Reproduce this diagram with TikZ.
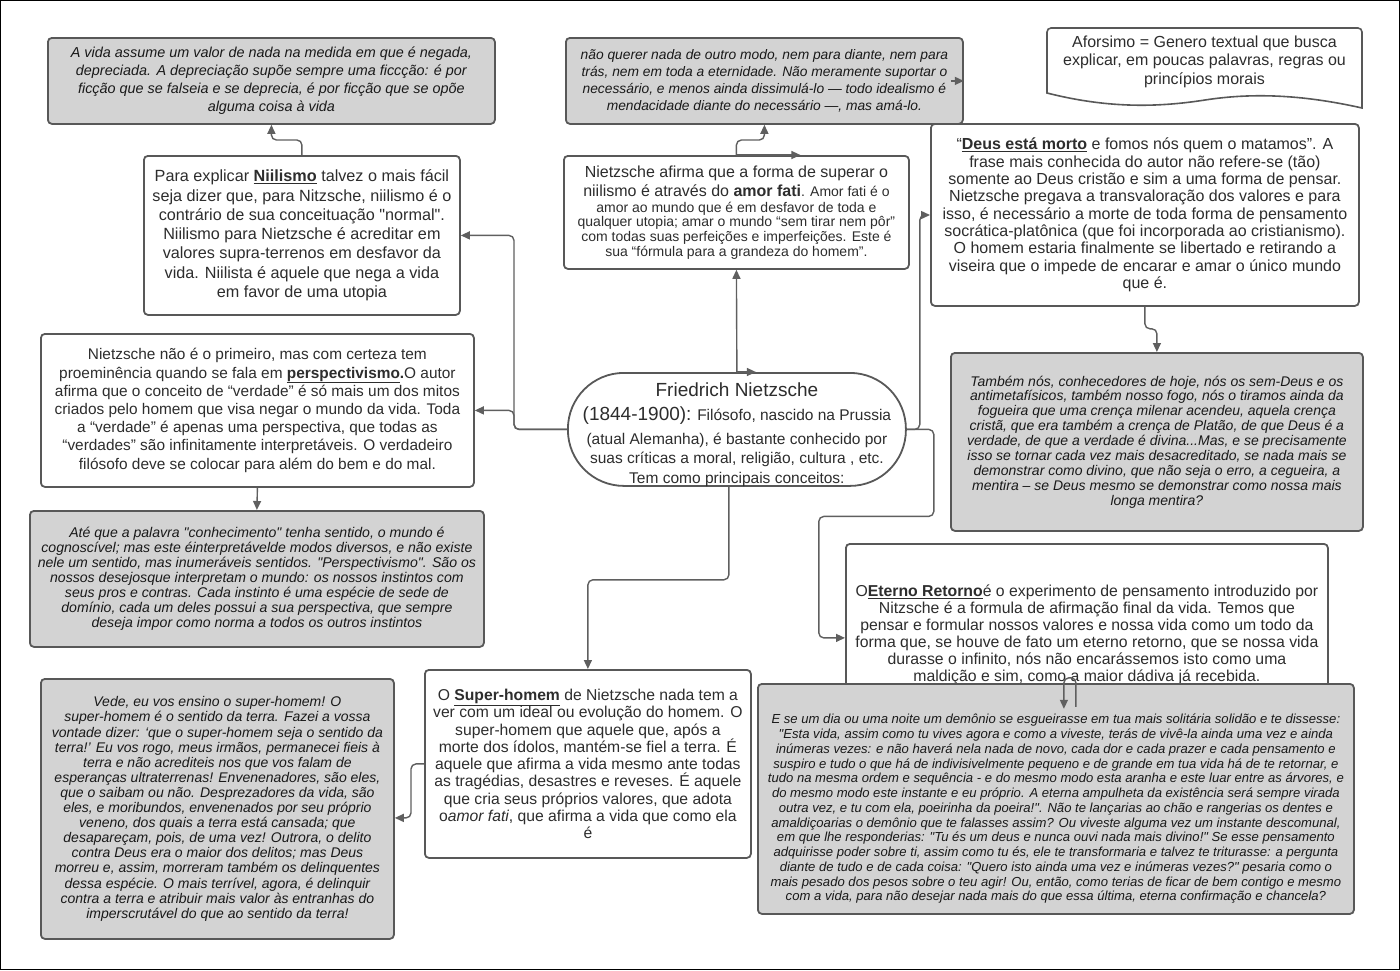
\documentclass[tikz,border=0pt]{standalone}
\usepackage{fontspec}
\setmainfont{Liberation Sans}[Ligatures=TeXOff]
\usetikzlibrary{arrows.meta,calc}
\definecolor{bc}{RGB}{88,88,88}
\definecolor{lc}{RGB}{95,95,95}
\definecolor{qf}{RGB}{211,211,211}
\definecolor{tc}{RGB}{45,45,45}
\definecolor{qt}{RGB}{25,25,25}
\tikzset{
  box/.style={draw=bc, line width=1.8pt, rounded corners=4pt, fill=white, align=center,
    text=tc, inner sep=0pt, anchor=north west},
  qbox/.style={box, fill=qf, text=qt},
  txt/.style={align=center, inner sep=0pt},
  arr/.style={draw=lc, line width=1.4pt, rounded corners=5pt, -{Triangle[length=9pt,width=8pt]}},
}
\newcommand{\fs}[2]{\fontsize{#1}{#2}\selectfont}
\begin{document}
\begin{tikzpicture}[x=1pt,y=-1pt]
\useasboundingbox (0,0) rectangle (1400,970);
\draw[black, line width=1pt] (0.5,0.5) rectangle (1399.5,969.5);

% quote boxes top
\node[qbox, minimum width=447pt, minimum height=86pt, font=\fs{14.4}{18}\itshape] (q1) at (47,37)
{A vida assume um valor de nada na medida em que é negada,\\
depreciada. A depreciação supõe sempre uma ficcção: é por\\
ficção que se falseia e se deprecia, é por ficção que se opõe\\
alguma coisa à vida};

\node[qbox, minimum width=397pt, minimum height=86pt, font=\fs{13.8}{17}\itshape] (q2) at (565,37)
{não querer nada de outro modo, nem para diante, nem para\\
trás, nem em toda a eternidade. Não meramente suportar o\\
necessário, e menos ainda dissimulá-lo — todo idealismo é\\
mendacidade diante do necessário —, mas amá-lo.};

% aforismo document shape
\draw[draw=bc, line width=1.6pt, fill=white]
  (1047,93) [rounded corners=4pt] -- (1047,28) -- (1362,28) [sharp corners] -- (1362,108)
  .. controls (1300,94) and (1250,93) .. (1205,100)
  .. controls (1160,107) and (1110,109) .. (1047,93) -- cycle;
\node[txt, text=tc, font=\fs{16}{18.5}] (afo) at (1204.5,61.5)
{Aforsimo = Genero textual que busca\\
explicar, em poucas palavras, regras ou\\
princípios morais};

% niilismo
\node[box, minimum width=316pt, minimum height=159pt, font=\fs{16.2}{19.3}] (nii) at (143,155)
{Para explicar \underline{\textbf{Niilismo}} talvez o mais fácil\\
seja dizer que, para Nitzsche, niilismo é o\\
contrário de sua conceituação "normal".\\
Niilismo para Nietzsche é acreditar em\\
valores supra-terrenos em desfavor da\\
vida. Niilista é aquele que nega a vida\\
em favor de uma utopia};

% amor fati
\node[box, minimum width=345pt, minimum height=113pt, font=\fs{14}{14.8}] (amor) at (563,155)
{{\fs{16}{18}Nietzsche afirma que a forma de superar o}\\[3.5pt]
{\fs{16}{18}niilismo é através do \textbf{amor fati}}. Amor fati é o\\[0.5pt]
amor ao mundo que é em desfavor de toda e\\
qualquer utopia; amar o mundo “sem tirar nem pôr”\\
com todas suas perfeições e imperfeições. Este é\\
sua “fórmula para a grandeza do homem”.};

% deus
\node[box, minimum width=428pt, minimum height=182pt, font=\fs{16}{17.3}] (deus) at (930,123)
{“\underline{\textbf{Deus está morto}} e fomos nós quem o matamos”. A\\
frase mais conhecida do autor não refere-se (tão)\\
somente ao Deus cristão e sim a uma forma de pensar.\\
Nietzsche pregava a transvaloração dos valores e para\\
isso, é necessário a morte de toda forma de pensamento\\
socrática-platônica (que foi incorporada ao cristianismo).\\
O homem estaria finalmente se libertado e retirando a\\
viseira que o impede de encarar e amar o único mundo\\
que é.};

% perspectivismo
\node[box, minimum width=433pt, minimum height=153pt, font=\fs{15.4}{18.2}] (persp) at (40,333)
{Nietzsche não é o primeiro, mas com certeza tem\\
proeminência quando se fala em \underline{\textbf{perspectivismo}}\textbf{.}O autor\\
afirma que o conceito de “verdade” é só mais um dos mitos\\
criados pelo homem que visa negar o mundo da vida. Toda\\
a “verdade” é apenas uma perspectiva, que todas as\\
“verdades” são infinitamente interpretáveis. O verdadeiro\\
filósofo deve se colocar para além do bem e do mal.};

% central stadium
\node[box, rounded corners=56pt, minimum width=338pt, minimum height=113pt] (ell) at (567,372) {};
\node[txt, text=tc, font=\fs{15.5}{19.5}] (ellt) at ($(ell.center)+(0,5)$)
{{\fs{19}{22}Friedrich Nietzsche}\\[4.5pt]
{\fs{19}{22}(1844-1900):} Filósofo, nascido na Prussia\\[4.5pt]
(atual Alemanha), é bastante conhecido por\\
suas críticas a moral, religião, cultura , etc.\\
Tem como principais conceitos:};

% deus quote
\node[qbox, minimum width=412pt, minimum height=178pt, font=\fs{14}{14.9}\itshape] (q4) at (950,352)
{Também nós, conhecedores de hoje, nós os sem-Deus e os\\
antimetafísicos, também nosso fogo, nós o tiramos ainda da\\
fogueira que uma crença milenar acendeu, aquela crença\\
cristã, que era também a crença de Platão, de que Deus é a\\
verdade, de que a verdade é divina...Mas, e se precisamente\\
isso se tornar cada vez mais desacreditado, se nada mais se\\
demonstrar como divino, que não seja o erro, a cegueira, a\\
mentira – se Deus mesmo se demonstrar como nossa mais\\
longa mentira?};

% perspectivismo quote
\node[qbox, minimum width=454pt, minimum height=136pt, font=\fs{14.1}{14.9}\itshape] (q3) at (29,510)
{Até que a palavra "conhecimento" tenha sentido, o mundo é\\
cognoscível; mas este éinterpretávelde modos diversos, e não existe\\
nele um sentido, mas inumeráveis sentidos. "Perspectivismo". São os\\
nossos desejosque interpretam o mundo: os nossos instintos com\\
seus pros e contras. Cada instinto é uma espécie de sede de\\
domínio, cada um deles possui a sua perspectiva, que sempre\\
deseja impor como norma a todos os outros instintos};

% eterno retorno
\node[box, minimum width=482pt, minimum height=182pt, font=\fs{15.8}{16.9}] (ete) at (845,543)
{O\underline{\textbf{Eterno Retorno}}é o experimento de pensamento introduzido por\\
Nitzsche é a formula de afirmação final da vida. Temos que\\
pensar e formular nossos valores e nossa vida como um todo da\\
forma que, se houve de fato um eterno retorno, que se nossa vida\\
durasse o infinito, nós não encarássemos isto como uma\\
maldição e sim, como a maior dádiva já recebida.};

\node[qbox, minimum width=596pt, minimum height=230pt] (q6) at (757,683) {};
\node[txt, text=qt, font=\fs{13.1}{14.75}\itshape] (q6t) at ($(q6.center)+(0,10)$)
{E se um dia ou uma noite um demônio se esgueirasse em tua mais solitária solidão e te dissesse:\\
"Esta vida, assim como tu vives agora e como a viveste, terás de vivê-la ainda uma vez e ainda\\
inúmeras vezes: e não haverá nela nada de novo, cada dor e cada prazer e cada pensamento e\\
suspiro e tudo o que há de indivisivelmente pequeno e de grande em tua vida há de te retornar, e\\
tudo na mesma ordem e sequência - e do mesmo modo esta aranha e este luar entre as árvores, e\\
do mesmo modo este instante e eu próprio. A eterna ampulheta da existência será sempre virada\\
outra vez, e tu com ela, poeirinha da poeira!". Não te lançarias ao chão e rangerias os dentes e\\
amaldiçoarias o demônio que te falasses assim? Ou viveste alguma vez um instante descomunal,\\
em que lhe responderias: "Tu és um deus e nunca ouvi nada mais divino!" Se esse pensamento\\
adquirisse poder sobre ti, assim como tu és, ele te transformaria e talvez te triturasse: a pergunta\\
diante de tudo e de cada coisa: "Quero isto ainda uma vez e inúmeras vezes?" pesaria como o\\
mais pesado dos pesos sobre o teu agir! Ou, então, como terias de ficar de bem contigo e mesmo\\
com a vida, para não desejar nada mais do que essa última, eterna confirmação e chancela?};

% super-homem
\node[box, minimum width=326pt, minimum height=188pt, font=\fs{15.7}{17.25}] (sup) at (424,669)
{O \underline{\textbf{Super-homem}} de Nietzsche nada tem a\\
ver com um ideal ou evolução do homem. O\\
super-homem que aquele que, após a\\
morte dos ídolos, mantém-se fiel a terra. É\\
aquele que afirma a vida mesmo ante todas\\
as tragédias, desastres e reveses. É aquele\\
que cria seus próprios valores, que adota\\
o\textit{amor fati}, que afirma a vida que como ela\\
é};

\node[qbox, minimum width=353pt, minimum height=260pt, font=\fs{14}{15.1}\itshape] (q5) at (40,678)
{Vede, eu vos ensino o super-homem! O\\
super-homem é o sentido da terra. Fazei a vossa\\
vontade dizer: ‘que o super-homem seja o sentido da\\
terra!’ Eu vos rogo, meus irmãos, permanecei fieis à\\
terra e não acrediteis nos que vos falam de\\
esperanças ultraterrenas! Envenenadores, são eles,\\
que o saibam ou não. Desprezadores da vida, são\\
eles, e moribundos, envenenados por seu próprio\\
veneno, dos quais a terra está cansada; que\\
desapareçam, pois, de uma vez! Outrora, o delito\\
contra Deus era o maior dos delitos; mas Deus\\
morreu e, assim, morreram também os delinquentes\\
dessa espécie. O mais terrível, agora, é delinquir\\
contra a terra e atribuir mais valor às entranhas do\\
imperscrutável do que ao sentido da terra!};

% connectors
\draw[arr] (nii.north) -- ++(0,-15) -| (q1.south);
\draw[arr] (amor.north) -- ++(0,-15) -| (q2.south);
\draw[arr] (amor.north) -- ++(64,0);
\draw[arr] ($(q2.east)+(-13,0)$) -- (q2.east);
\draw[arr] (ell.north) -- (amor.south);
\draw[arr] (ell.north) -- ++(19,0);
\draw[arr] (ell.west) -- ++(-53,0) |- (nii.east);
\draw[arr] (ell.west) -- ++(-53,0) |- (persp.east);
\draw[arr] (persp.south) -- (q3.north);
\draw[arr] (ell.east) -- ++(13,0) |- ($(deus.north west)+(0,92)$);
\draw[arr] (ell.east) -- ++(27,0) -- ++(0,87) -- ++(-115,0) |- ($(ete.west)+(0,3)$);
\draw[arr] (deus.south) -- ++(0,22) -| (q4.north);
\draw[arr] ($(ell.south)+(-8,0)$) -- ++(0,93) -| (sup.north);
\draw[arr] (sup.west) -- ++(-13,0) |- ($(q5.east)+(0,9)$);
\draw[arr] ($(ete.south)+(-11,-20)$) -- ++(0,-29) -- ++(-12,0) -- ++(0,31);
\end{tikzpicture}
\end{document}
